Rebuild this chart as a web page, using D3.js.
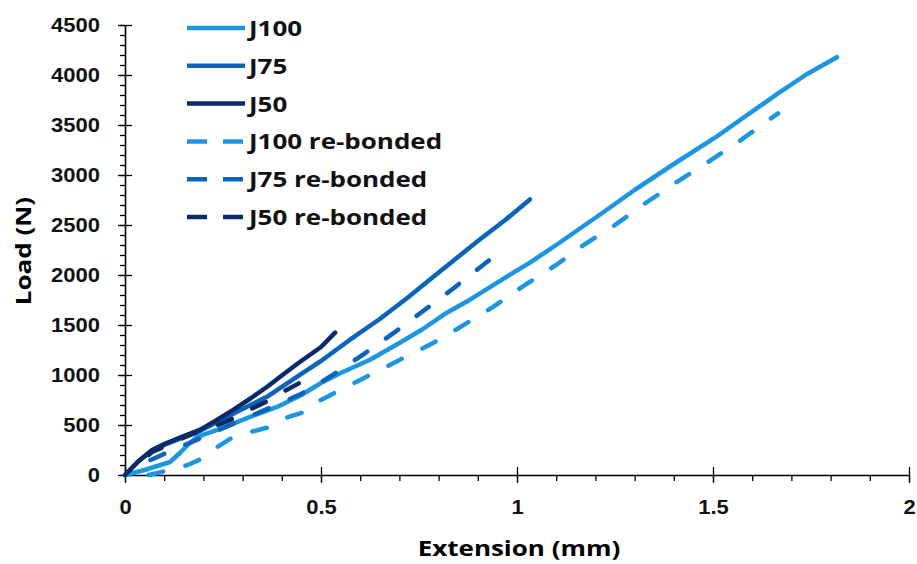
<!DOCTYPE html>
<html>
<head>
<meta charset="utf-8">
<script src="https://cdn.jsdelivr.net/npm/d3@7"></script>
<style>
  body { margin: 0; background: #fff; }
  svg { display: block; font-family: "Open Sans", sans-serif; }
</style>
</head>
<body>
<svg id="chart" width="917" height="564"></svg>
<script>
//------------------------------ DATA ------------------------------
// each point is [extension (mm), load (N)]
var j100 = [[0,0],[0.05,50],[0.115,130],[0.14,220],[0.16,300],[0.184,381],[0.25,471],[0.319,581],
  [0.388,681],[0.45,800],[0.5,920],[0.55,1020],[0.625,1152],[0.7,1320],[0.76,1460],[0.821,1623],
  [0.88,1753],[0.974,1984],[1.033,2124],[1.1,2300],[1.212,2605],[1.3,2850],[1.4,3110],[1.51,3387],
  [1.58,3580],[1.663,3808],[1.74,4010],[1.816,4178]];
var j75 = [[0,0],[0.035,140],[0.069,245],[0.1,300],[0.145,370],[0.191,440],[0.25,560],[0.3,660],
  [0.362,782],[0.446,1002],[0.5,1140],[0.574,1353],[0.65,1560],[0.72,1770],[0.778,1954],[0.9,2340],
  [0.97,2550],[1.033,2756]];
var j50 = [[0,0],[0.035,140],[0.069,250],[0.1,310],[0.145,381],[0.191,451],[0.23,540],[0.276,651],
  [0.32,765],[0.362,880],[0.4,995],[0.446,1130],[0.5,1280],[0.536,1423]];
var j100Rebonded = [[0.06,0],[0.115,50],[0.16,100],[0.2,170],[0.235,280],[0.276,380],[0.32,430],
  [0.37,481],[0.41,571],[0.45,621],[0.5,751],[0.54,832],[0.6,950],[0.7,1150],[0.785,1318],[0.855,1478],
  [0.94,1683],[1.02,1900],[1.1,2100],[1.17,2300],[1.25,2500],[1.33,2725],[1.41,2936],[1.49,3136],
  [1.57,3347],[1.666,3617]];
var j75Rebonded = [[0.065,150],[0.077,170],[0.122,250],[0.2,380],[0.28,520],[0.366,666],[0.45,812],
  [0.53,1000],[0.61,1212],[0.69,1433],[0.765,1653],[0.84,1873],[0.931,2154]];
var j50Rebonded = [[0.06,200],[0.069,230],[0.11,300],[0.148,370],[0.196,451],[0.237,500],[0.286,581],
  [0.327,671],[0.37,751],[0.403,832],[0.446,922]];

var seriesNames = ['J100','J75','J50','J100 re-bonded','J75 re-bonded','J50 re-bonded'];
var xTicks = [0,0.5,1,1.5,2];
var yTicks = [0,500,1000,1500,2000,2500,3000,3500,4000,4500];

var series = [
  {name: seriesNames[0], pts: j100, color: '#1c96e0', dashed: false},
  {name: seriesNames[1], pts: j75, color: '#0b63ba', dashed: false},
  {name: seriesNames[2], pts: j50, color: '#0c2a67', dashed: false},
  {name: seriesNames[3], pts: j100Rebonded, color: '#1c96e0', dashed: true},
  {name: seriesNames[4], pts: j75Rebonded, color: '#0b63ba', dashed: true},
  {name: seriesNames[5], pts: j50Rebonded, color: '#0c2a67', dashed: true}
];

//------------------------------ SCALES ------------------------------
var x = d3.scaleLinear().domain([0,2]).range([125,909]);
var y = d3.scaleLinear().domain([0,4500]).range([475,25]);

var svg = d3.select('#chart');

// text in the figure is a bit wider than the fonts we have, stretch it
function widen(sel, k) {
  sel.each(function () {
    var w = this.getComputedTextLength();
    this.setAttribute('textLength', w * k);
    this.setAttribute('lengthAdjust', 'spacingAndGlyphs');
  });
}

//------------------------------ AXES ------------------------------
// minor ticks first (outside only)
svg.append('g')
  .attr('transform', 'translate(0,475)')
  .call(d3.axisBottom(x).tickValues(d3.range(0, 2.001, 0.1)).tickSize(6).tickFormat(''))
  .call(g => g.select('.domain').remove());
svg.append('g')
  .attr('transform', 'translate(125,0)')
  .call(d3.axisLeft(y).tickValues(d3.range(0, 4501, 100)).tickSize(5).tickFormat(''))
  .call(g => g.select('.domain').remove());

// major ticks cross the axis line
var xAxis = svg.append('g')
  .attr('transform', 'translate(0,475)')
  .call(d3.axisBottom(x).tickValues(xTicks).tickSize(8).tickPadding(21).tickSizeOuter(0).tickFormat(d => String(d)));
xAxis.selectAll('.tick line').attr('y1', -8);

var yAxis = svg.append('g')
  .attr('transform', 'translate(125,0)')
  .call(d3.axisLeft(y).tickValues(yTicks).tickSize(7).tickPadding(18).tickSizeOuter(0).tickFormat(d => String(d)));
yAxis.selectAll('.tick line').attr('x1', 7);

svg.selectAll('.tick line').attr('stroke', '#000').attr('stroke-width', 1.3);
svg.selectAll('.domain').attr('stroke', '#000').attr('stroke-width', 1.6);
svg.selectAll('.tick text')
  .attr('fill', '#111')
  .style('font-size', '20px')
  .style('font-weight', 600);
xAxis.selectAll('.tick text').attr('dy', '0.5em');
widen(svg.selectAll('.tick text'), 1.1);

// axis titles
var xt = svg.append('text')
  .attr('x', 519).attr('y', 556)
  .attr('text-anchor', 'middle')
  .style('font-size', '22px').style('font-weight', 700)
  .text('Extension (mm)');
var yt = svg.append('text')
  .attr('transform', 'translate(31,251) rotate(-90)')
  .attr('text-anchor', 'middle')
  .style('font-size', '22px').style('font-weight', 700)
  .text('Load (N)');
widen(xt, 1.18);
widen(yt, 1.18);

//------------------------------ CURVES ------------------------------
var line = d3.line().x(d => x(d[0])).y(d => y(d[1]));

svg.selectAll('path.curve')
  .data(series)
  .enter()
  .append('path')
  .attr('class', 'curve')
  .attr('d', d => line(d.pts))
  .attr('fill', 'none')
  .attr('stroke', d => d.color)
  .attr('stroke-width', 4.5)
  .attr('stroke-linecap', 'round')
  .attr('stroke-linejoin', 'round')
  .attr('stroke-dasharray', d => d.dashed ? '15,23' : null);

//------------------------------ LEGEND ------------------------------
var legend = svg.append('g').attr('class', 'legend');
var rows = legend.selectAll('g')
  .data(series)
  .enter()
  .append('g')
  .attr('transform', (d, i) => 'translate(187,' + (28 + i * 37.8) + ')');

rows.append('line')
  .attr('x1', 0).attr('x2', 58)
  .attr('stroke', d => d.color)
  .attr('stroke-width', 4.5)
  .attr('stroke-dasharray', d => d.dashed ? '20,16' : null);

var ltext = rows.append('text')
  .attr('x', 62).attr('dy', '0.36em')
  .style('font-size', '22px').style('font-weight', 700)
  .attr('fill', '#111')
  .text(d => d.name);
widen(ltext, 1.18);
</script>
</body>
</html>
